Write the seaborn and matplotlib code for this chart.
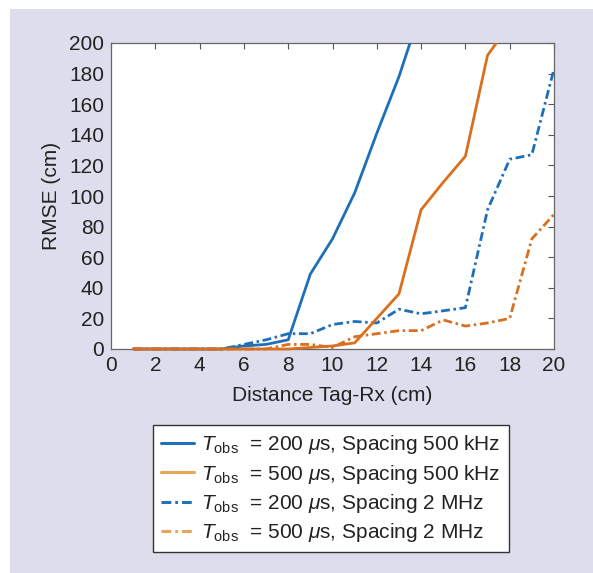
import matplotlib
matplotlib.use("Agg")
import matplotlib.pyplot as plt
from matplotlib.patches import Rectangle
from matplotlib.lines import Line2D
import seaborn as sns
import pandas as pd
import numpy as np

# ---- data ----
distance = [1, 2, 3, 4, 5, 6, 7, 8, 9, 10, 11, 12, 13, 14, 15, 16, 17, 18, 19, 20]

# T_obs = 200 us, spacing 500 kHz (leaves the chart above 200)
dist_a = [1, 2, 3, 4, 5, 6, 7, 8, 9, 10, 11, 12, 13, 14]
rmse_a = [0, 0, 0, 0, 0, 2, 3, 6, 49, 72, 102, 141, 178, 222]

# T_obs = 500 us, spacing 500 kHz
dist_b = [1, 2, 3, 4, 5, 6, 7, 8, 9, 10, 11, 12, 13, 14, 15, 16, 17, 18]
rmse_b = [0, 0, 0, 0, 0, 0, 0, 0, 1, 2, 4, 20, 36, 91, 109, 126, 192, 212]

# T_obs = 200 us, spacing 2 MHz
rmse_c = [0, 0, 0, 0, 0, 3, 6, 10, 10, 16, 18, 17, 26, 23, 25, 27, 91, 124, 127, 183]

# T_obs = 500 us, spacing 2 MHz
rmse_d = [0, 0, 0, 0, 0, 0, 0, 3, 3, 1, 8, 10, 12, 12, 19, 15, 17, 20, 72, 88]

labels = [
    r"$T_{\mathrm{obs}}$  = 200 $\mu$s, Spacing 500 kHz",
    r"$T_{\mathrm{obs}}$  = 500 $\mu$s, Spacing 500 kHz",
    r"$T_{\mathrm{obs}}$  = 200 $\mu$s, Spacing 2 MHz",
    r"$T_{\mathrm{obs}}$  = 500 $\mu$s, Spacing 2 MHz",
]
x_ticks = [0, 2, 4, 6, 8, 10, 12, 14, 16, 18, 20]
y_ticks = [0, 20, 40, 60, 80, 100, 120, 140, 160, 180, 200]

# ---- style ----
sns.set_style("white")
plt.rcParams['font.family'] = ['Liberation Sans', 'DejaVu Sans']
plt.rcParams['mathtext.fontset'] = 'custom'
plt.rcParams['mathtext.rm'] = 'Liberation Sans'
plt.rcParams['mathtext.it'] = 'Liberation Sans:italic'
plt.rcParams['mathtext.bf'] = 'Liberation Sans:bold'

BLUE = "#1f6fb8"
ORANGE = "#d9701f"
BLUE_LEG = "#1f72b8"
ORANGE_LEG = "#e8a55a"
TEXT = "#222222"
BG = "#dedded"
dashdot = (0, (3.2, 1.3, 0.9, 1.3))
FS = 15

fig = plt.figure(figsize=(5.93, 5.73), dpi=100)
fig.patch.set_facecolor("white")
fig.patches.append(Rectangle((10 / 593, 0), 1, 1 - 9 / 573, transform=fig.transFigure,
                             facecolor=BG, edgecolor="none", zorder=-10))

ax = fig.add_axes([111 / 593, 1 - 349 / 573, (554 - 111) / 593, (349 - 43) / 573])
ax.set_facecolor("white")

df_a = pd.DataFrame({"d": dist_a, "r": rmse_a})
df_b = pd.DataFrame({"d": dist_b, "r": rmse_b})
df_c = pd.DataFrame({"d": distance, "r": rmse_c})
df_d = pd.DataFrame({"d": distance, "r": rmse_d})

lw = 2.0
sns.lineplot(data=df_a, x="d", y="r", ax=ax, color=BLUE, lw=lw, zorder=3)
sns.lineplot(data=df_c, x="d", y="r", ax=ax, color=BLUE, lw=lw, linestyle=dashdot, zorder=3)
sns.lineplot(data=df_d, x="d", y="r", ax=ax, color=ORANGE, lw=lw, linestyle=dashdot, zorder=3)
sns.lineplot(data=df_b, x="d", y="r", ax=ax, color=ORANGE, lw=lw, zorder=3)

ax.set_xlim(0, 20)
ax.set_ylim(0, 200)
clip = Rectangle((0, -0.01), 1, 1.01, transform=ax.transAxes)
for ln in ax.lines:
    ln.set_clip_path(clip)

ax.set_xticks(x_ticks)
ax.set_yticks(y_ticks)
ax.tick_params(direction="in", length=4, width=0.8, colors="#555555",
               labelcolor=TEXT, labelsize=FS, top=True, right=True, pad=5)
for s in ax.spines.values():
    s.set_color("#666666")
    s.set_linewidth(0.9)

ax.set_xlabel("Distance Tag-Rx (cm)", fontsize=FS, color=TEXT, labelpad=8)
ax.set_ylabel("RMSE (cm)", fontsize=FS, color=TEXT, labelpad=6)

handles = [
    Line2D([], [], color=BLUE_LEG, lw=2.2),
    Line2D([], [], color=ORANGE_LEG, lw=2.2),
    Line2D([], [], color=BLUE_LEG, lw=2.2, linestyle=dashdot),
    Line2D([], [], color=ORANGE_LEG, lw=2.2, linestyle=dashdot),
]
leg = fig.legend(handles, labels, loc="upper left",
                 bbox_to_anchor=(153 / 593, 1 - 425 / 573),
                 fontsize=FS, frameon=True, fancybox=False, framealpha=1,
                 facecolor="white",
                 handlelength=1.55, handletextpad=0.35, labelspacing=0.30,
                 borderpad=0.4, borderaxespad=0)
leg.get_frame().set_edgecolor("#333333")
leg.get_frame().set_linewidth(1.0)
for t in leg.get_texts():
    t.set_color(TEXT)

fig.savefig("out.png", dpi=100)
